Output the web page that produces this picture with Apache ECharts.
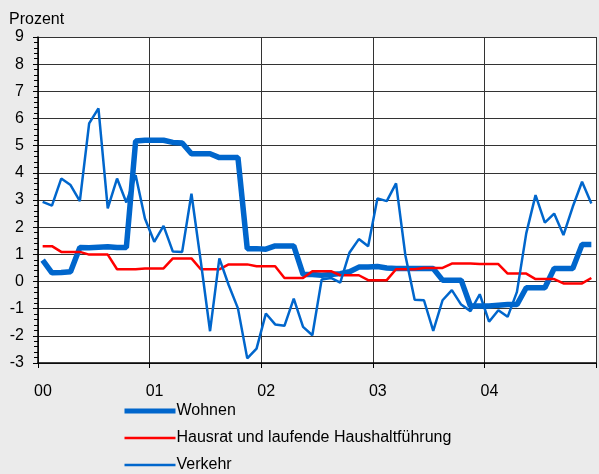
<!DOCTYPE html>
<html>
<head>
<meta charset="utf-8">
<script src="https://cdn.jsdelivr.net/npm/echarts@6/dist/echarts.min.js"></script>
<style>
  html, body { margin: 0; padding: 0; background: #ebebeb; }
  #chart { width: 599px; height: 474px; }
</style>
</head>
<body>
<div id="chart"></div>
<script>
// monthly values 2000-2004, percent
const yearLabels = ['00', '01', '02', '03', '04'];

const wohnen = [
  0.79, 0.32, 0.33, 0.36, 1.25, 1.24, 1.26, 1.28, 1.25, 1.25, 5.17, 5.20,
  5.20, 5.20, 5.12, 5.10, 4.70, 4.70, 4.70, 4.56, 4.56, 4.56, 1.21, 1.21,
  1.19, 1.31, 1.31, 1.31, 0.26, 0.26, 0.23, 0.26, 0.29, 0.36, 0.53, 0.53,
  0.55, 0.50, 0.48, 0.48, 0.48, 0.48, 0.48, 0.05, 0.05, 0.05, -0.90, -0.90,
  -0.90, -0.87, -0.85, -0.85, -0.23, -0.23, -0.23, 0.48, 0.48, 0.48, 1.36, 1.36
];

const hausrat = [
  1.30, 1.30, 1.09, 1.09, 1.09, 0.99, 0.99, 0.99, 0.45, 0.45, 0.45, 0.48,
  0.48, 0.48, 0.85, 0.85, 0.85, 0.45, 0.45, 0.45, 0.63, 0.63, 0.63, 0.56,
  0.56, 0.56, 0.13, 0.13, 0.13, 0.38, 0.38, 0.38, 0.23, 0.23, 0.23, 0.05,
  0.05, 0.05, 0.45, 0.45, 0.45, 0.50, 0.50, 0.50, 0.66, 0.66, 0.66, 0.64,
  0.64, 0.64, 0.29, 0.29, 0.29, 0.09, 0.09, 0.09, -0.07, -0.07, -0.07, 0.13
];

const verkehr = [
  2.93, 2.79, 3.79, 3.55, 2.96, 5.82, 6.37, 2.69, 3.79, 2.91, 3.91, 2.32,
  1.46, 2.05, 1.10, 1.09, 3.23, 0.75, -1.83, 0.85, -0.13, -0.99, -2.83, -2.47,
  -1.18, -1.58, -1.63, -0.63, -1.67, -1.98, 0.07, 0.13, -0.04, 1.07, 1.56, 1.30,
  3.06, 2.96, 3.61, 0.97, -0.67, -0.69, -1.82, -0.69, -0.32, -0.85, -1.09, -0.47,
  -1.48, -1.06, -1.30, -0.38, 1.77, 3.18, 2.17, 2.50, 1.71, 2.75, 3.67, 2.87
];

// points sit in the middle of each month
const toPoints = arr => arr.map((v, i) => [i + 0.5, v]);

const font = 'Liberation Sans, Arial, sans-serif';
const blue = '#0066cc';

const chart = echarts.init(document.getElementById('chart'));

chart.setOption({
  backgroundColor: '#ebebeb',
  animation: false,
  textStyle: { fontFamily: font, color: '#000' },
  title: {
    text: 'Prozent',
    left: 4,
    top: 7,
    textStyle: { fontFamily: font, fontSize: 16, fontWeight: 'normal', color: '#000' }
  },
  legend: {
    orient: 'vertical',
    left: 117,
    top: 398,
    height: 120,
    itemWidth: 51,
    itemHeight: 14,
    itemGap: 11,
    itemStyle: { opacity: 0 },
    textStyle: { fontFamily: font, fontSize: 16, color: '#000', padding: [0, 0, 0, -4] },
    data: [
      { name: 'Wohnen', lineStyle: { width: 5 } },
      { name: 'Hausrat und laufende Haushaltführung', lineStyle: { width: 2.5 } },
      { name: 'Verkehr', lineStyle: { width: 2.5 } }
    ]
  },
  grid: {
    left: 38,
    top: 37,
    width: 566,
    height: 326,
    show: true,
    backgroundColor: '#fff',
    borderWidth: 0
  },
  xAxis: {
    type: 'value',
    min: 0,
    max: 60,
    interval: 12,
    axisLine: { onZero: false, lineStyle: { color: '#000', width: 1.5 } },
    axisTick: { show: true, length: 5, lineStyle: { color: '#000' } },
    axisLabel: {
      fontSize: 16,
      color: '#000',
      margin: 21,
      padding: [0, 0, 0, 10],
      formatter: v => yearLabels[v / 12] || ''
    },
    splitLine: { show: true, lineStyle: { color: '#333', width: 1 } }
  },
  yAxis: {
    type: 'value',
    min: -3,
    max: 9,
    interval: 1,
    axisLine: { show: true, lineStyle: { color: '#000', width: 1.5 } },
    axisTick: { show: true, length: 5, lineStyle: { color: '#000' } },
    minorTick: { show: true, splitNumber: 5, length: 4, lineStyle: { color: '#000' } },
    axisLabel: { fontSize: 16, color: '#000', margin: 14 },
    splitLine: { show: true, lineStyle: { color: '#333', width: 1 } }
  },
  series: [
    {
      name: 'Wohnen',
      type: 'line',
      data: toPoints(wohnen),
      symbol: 'none',
      lineStyle: { color: blue, width: 5.5 },
      itemStyle: { color: blue }
    },
    {
      name: 'Hausrat und laufende Haushaltführung',
      type: 'line',
      data: toPoints(hausrat),
      symbol: 'none',
      lineStyle: { color: '#ff0000', width: 2.5 },
      itemStyle: { color: '#ff0000' }
    },
    {
      name: 'Verkehr',
      type: 'line',
      data: toPoints(verkehr),
      symbol: 'none',
      lineStyle: { color: blue, width: 2.5 },
      itemStyle: { color: blue }
    }
  ]
});
</script>
</body>
</html>
